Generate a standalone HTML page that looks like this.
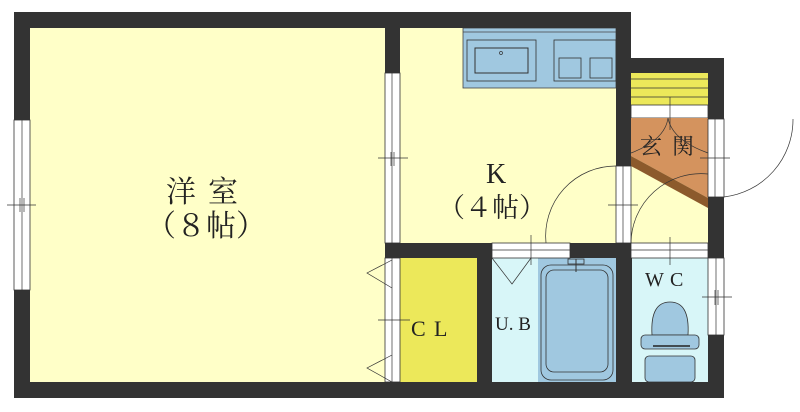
<!DOCTYPE html>
<html><head><meta charset="utf-8"><style>
html,body{margin:0;padding:0;background:#fff;width:800px;height:412px;overflow:hidden}
svg{display:block}
text{font-family:"Liberation Serif","Noto Serif CJK SC",serif;fill:#222}
</style></head><body>
<svg width="800" height="412" viewBox="0 0 800 412">
<rect x="30" y="28" width="356" height="354" fill="#ffffc8"/>
<rect x="400" y="28" width="216" height="216" fill="#ffffc8"/>
<rect x="631" y="73" width="77" height="171" fill="#ffffc8"/>
<rect x="400" y="258" width="77" height="124" fill="#ece85a"/>
<rect x="492" y="258" width="124" height="124" fill="#d8f6f8"/>
<rect x="538" y="258" width="78" height="124" fill="#a0c8e0"/>
<rect x="632" y="258" width="76" height="124" fill="#d8f6f8"/>
<rect x="463" y="28" width="153" height="60" fill="#a0c8e0" stroke="#444" stroke-width="0.8"/>
<line x1="463" y1="32" x2="616" y2="32" stroke="#444" stroke-width="0.8"/>
<rect x="467" y="40" width="69" height="41" fill="none" stroke="#333" stroke-width="0.8"/>
<rect x="475" y="48" width="53" height="25" fill="none" stroke="#333" stroke-width="1"/>
<circle cx="501" cy="53" r="1.5" fill="none" stroke="#333" stroke-width="0.7"/>
<rect x="554" y="40" width="62" height="41" fill="none" stroke="#333" stroke-width="0.8"/>
<rect x="559" y="58" width="22" height="20" fill="none" stroke="#333" stroke-width="0.8"/>
<rect x="590" y="58" width="22" height="20" fill="none" stroke="#333" stroke-width="0.8"/>
<rect x="631" y="73" width="77" height="32" fill="#ece85a"/>
<line x1="631" y1="79" x2="708" y2="79" stroke="#333" stroke-width="0.8"/>
<line x1="631" y1="88" x2="708" y2="88" stroke="#333" stroke-width="0.8"/>
<line x1="631" y1="97" x2="708" y2="97" stroke="#333" stroke-width="0.8"/>
<rect x="631" y="105" width="77" height="13" fill="#fff" stroke="#333" stroke-width="0.8"/>
<polygon points="631,118 708,118 708,198 631,156" fill="#d4935e"/>
<polygon points="631,156 708,198 708,208 631,166" fill="#8c5a2c"/>
<text x="640" y="154" font-size="22">玄</text><text x="672" y="154" font-size="22">関</text>
<g fill="#333">
<rect x="14" y="12" width="617" height="16"/>
<rect x="14" y="12" width="16" height="108"/>
<rect x="14" y="290" width="16" height="108"/>
<rect x="14" y="382" width="710" height="16"/>
<rect x="385" y="28" width="15" height="45"/>
<rect x="385" y="243" width="107" height="15"/>
<rect x="477" y="243" width="15" height="139"/>
<rect x="570" y="243" width="62" height="15"/>
<rect x="616" y="28" width="15" height="138"/>
<rect x="616" y="243" width="16" height="139"/>
<rect x="631" y="58" width="93" height="15"/>
<rect x="708" y="58" width="16" height="61"/>
<rect x="708" y="197" width="16" height="61"/>
<rect x="708" y="335" width="16" height="63"/>
</g>
<g fill="#fff" stroke="#333" stroke-width="0.8">
<rect x="14" y="120" width="16" height="170"/>
<rect x="385" y="73" width="15" height="170"/>
<rect x="385" y="258" width="15" height="124"/>
<rect x="616" y="166" width="15" height="77"/>
<rect x="492" y="243" width="78" height="15"/>
<rect x="631" y="243" width="77" height="15"/>
<rect x="708" y="119" width="16" height="78"/>
<rect x="708" y="258" width="16" height="77"/>
</g>
<g stroke="#333" stroke-width="0.7" fill="none">
<line x1="22" y1="120" x2="22" y2="290"/>
<line x1="392" y1="73" x2="392" y2="243"/>
<line x1="392" y1="258" x2="392" y2="382"/>
<line x1="623" y1="166" x2="623" y2="243"/>
<line x1="492" y1="250" x2="570" y2="250"/>
<line x1="631" y1="250" x2="708" y2="250"/>
<line x1="715" y1="119" x2="715" y2="197"/>
<line x1="716" y1="258" x2="716" y2="335"/>
<line x1="7" y1="205" x2="36" y2="205"/><line x1="20" y1="198" x2="20" y2="212"/><line x1="24" y1="198" x2="24" y2="212"/>
<line x1="378" y1="158" x2="408" y2="158"/><line x1="391" y1="152" x2="391" y2="166"/><line x1="394" y1="152" x2="394" y2="166"/>
<line x1="378" y1="320" x2="410" y2="320"/>
<line x1="608" y1="205" x2="638" y2="205"/>
<line x1="700" y1="158" x2="730" y2="158"/>
<line x1="702" y1="297" x2="732" y2="297"/><line x1="715" y1="290" x2="715" y2="305"/><line x1="718" y1="290" x2="718" y2="305"/>
<line x1="531" y1="235" x2="531" y2="265"/>
<line x1="670" y1="237" x2="670" y2="265"/>
<line x1="670" y1="97" x2="670" y2="130"/>
<path d="M546 243 A70 70 0 0 1 616 166"/>
<path d="M631 243 A70 70 0 0 1 708 174"/>
<path d="M724 197 A78 78 0 0 0 793 119"/>
<path d="M631 153 Q665 140 668 118 Q672 140 708 153"/>
<polyline points="392,260 367,273 392,288"/>
<polyline points="392,355 367,368 392,382"/>
<polyline points="492,258 512,284 531,258"/>
</g>
<rect x="541" y="265" width="72" height="115" rx="10" fill="#a0c8e0" stroke="#333" stroke-width="0.8"/>
<rect x="546" y="270" width="62" height="102" rx="8" fill="none" stroke="#333" stroke-width="0.8"/>
<rect x="568" y="259" width="16" height="5" fill="none" stroke="#333" stroke-width="0.8"/>
<line x1="576" y1="259" x2="576" y2="272" stroke="#333" stroke-width="1"/>
<path d="M652 335 Q650 302 670 302 Q690 302 688 335 Z" fill="#a0c8e0" stroke="#333" stroke-width="0.8"/>
<rect x="641" y="335" width="58" height="14" rx="4" fill="#a0c8e0" stroke="#333" stroke-width="0.8"/>
<rect x="645" y="356" width="50" height="26" rx="4" fill="#a0c8e0" stroke="#333" stroke-width="0.8"/>
<line x1="653" y1="346" x2="690" y2="346" stroke="#222" stroke-width="1.5"/>
<text x="166" y="202" font-size="30">洋</text><text x="208" y="202" font-size="30">室</text>
<text x="146" y="236" font-size="30">（８帖）</text>
<text x="486" y="183" font-size="28">K</text>
<text x="438" y="217" font-size="27">（４帖）</text>
<text x="411" y="336" font-size="22">C</text><text x="434" y="336" font-size="22">L</text>
<text x="495" y="330" font-size="19">U. B</text>
<text x="645" y="286" font-size="20">W</text><text x="670" y="286" font-size="20">C</text>
</svg>
</body></html>
